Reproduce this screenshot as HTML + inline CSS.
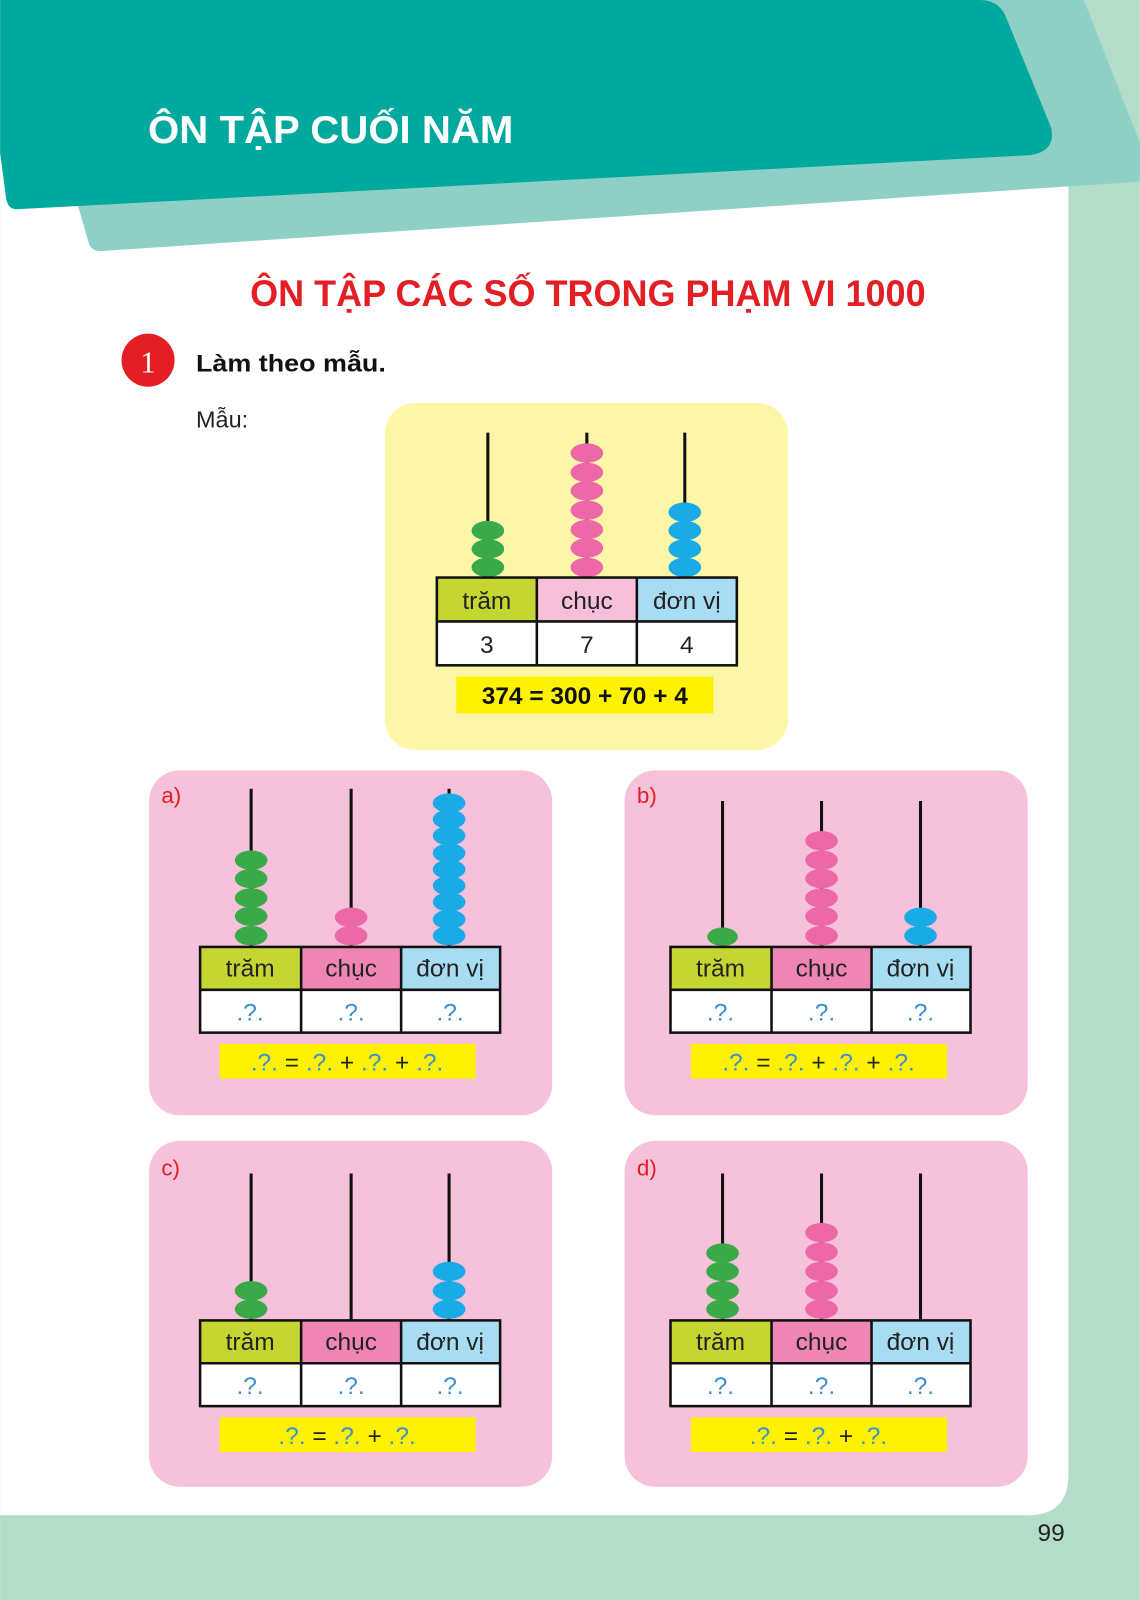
<!DOCTYPE html>
<html><head><meta charset="utf-8"><style>html,body{margin:0;padding:0;background:#fff}svg{display:block}</style></head>
<body>
<svg width="1140" height="1600" viewBox="0 0 1117 1568" xmlns="http://www.w3.org/2000/svg" font-family="Liberation Sans, sans-serif">
<defs>
<ellipse id="bg" cx="0" cy="0" rx="16" ry="9.5" fill="#3aaa48"/>
<ellipse id="bp" cx="0" cy="0" rx="16" ry="9.5" fill="#ec68a6"/>
<ellipse id="bb" cx="0" cy="0" rx="16" ry="9.5" fill="#1aabe6"/>
</defs>
<rect width="1117" height="1568" fill="#b3dcc9"/>
<path d="M0 0 H1047 V1445 Q1047 1485 1007 1485 H0 Z" fill="#fff"/>
<!-- header -->
<path d="M60 0 H1062 L1117 140 V178 L100 246 Q88 247 86 235 L70 180 Z" fill="#8ed0c6"/>
<path d="M0 0 H960 Q978 0 985 15 L1030 125 Q1035 148 1010 152 L18 205 Q8 206 6 195 L0 150 Z" fill="#00a99d"/>
<text x="145" y="140" font-size="38" font-weight="bold" fill="#fff" textLength="358" lengthAdjust="spacingAndGlyphs">ÔN TẬP CUỐI NĂM</text>
<text x="245" y="300" font-size="36" font-weight="bold" fill="#e31e24" textLength="662" lengthAdjust="spacingAndGlyphs">ÔN TẬP CÁC SỐ TRONG PHẠM VI 1000</text>
<circle cx="145" cy="353" r="26" fill="#e31e24"/>
<text x="145" y="365" font-size="30" fill="#fff" text-anchor="middle" font-family="Liberation Serif, serif">1</text>
<text x="192" y="364" font-size="24" font-weight="bold" fill="#111" textLength="186" lengthAdjust="spacingAndGlyphs">Làm theo mẫu.</text>
<text x="192" y="419" font-size="23" fill="#222">Mẫu:</text>
<!-- sample -->
<rect x="377" y="395" width="395" height="340" rx="30" fill="#fbf6a8"/>
<g stroke="#111" stroke-width="3"><line x1="478" y1="424" x2="478" y2="566"/><line x1="575" y1="424" x2="575" y2="566"/><line x1="671" y1="424" x2="671" y2="566"/></g>
<g transform="translate(478,0)"><use href="#bg" y="520"/><use href="#bg" y="538"/><use href="#bg" y="556"/></g>
<g transform="translate(575,0)"><use href="#bp" y="444"/><use href="#bp" y="463"/><use href="#bp" y="481"/><use href="#bp" y="500"/><use href="#bp" y="519"/><use href="#bp" y="537"/><use href="#bp" y="556"/></g>
<g transform="translate(671,0)"><use href="#bb" y="502"/><use href="#bb" y="520"/><use href="#bb" y="538"/><use href="#bb" y="556"/></g>
<rect x="428" y="566" width="98" height="43" fill="#c5d531"/><rect x="526" y="566" width="98" height="43" fill="#f7bfd9"/><rect x="624" y="566" width="98" height="43" fill="#a8dcf3"/>
<rect x="428" y="609" width="294" height="43" fill="#fff"/>
<g stroke="#111" stroke-width="2.5" fill="none"><rect x="428" y="566" width="294" height="86"/><line x1="428" y1="609" x2="722" y2="609"/><line x1="526" y1="566" x2="526" y2="652"/><line x1="624" y1="566" x2="624" y2="652"/></g>
<g font-size="24" fill="#222" text-anchor="middle"><text x="477" y="597">trăm</text><text x="575" y="597">chục</text><text x="673" y="597">đơn vị</text><text x="477" y="640">3</text><text x="575" y="640">7</text><text x="673" y="640">4</text></g>
<rect x="447" y="663" width="252" height="36" fill="#fff200"/>
<text x="573" y="690" font-size="24" font-weight="bold" fill="#111" text-anchor="middle">374 = 300 + 70 + 4</text>

<!-- panel a -->
<rect x="146" y="755" width="395" height="338" rx="30" fill="#f6c1db"/>
<text x="158" y="787" font-size="22" fill="#e31e24">a)</text>
<g stroke="#111" stroke-width="3"><line x1="246" y1="773" x2="246" y2="928"/><line x1="344" y1="773" x2="344" y2="928"/><line x1="440" y1="773" x2="440" y2="928"/></g>
<g transform="translate(246,0)"><use href="#bg" y="843"/><use href="#bg" y="861"/><use href="#bg" y="880"/><use href="#bg" y="898"/><use href="#bg" y="917"/></g>
<g transform="translate(344,0)"><use href="#bp" y="899"/><use href="#bp" y="917"/></g>
<g transform="translate(440,0)"><use href="#bb" y="787"/><use href="#bb" y="803"/><use href="#bb" y="819"/><use href="#bb" y="836"/><use href="#bb" y="852"/><use href="#bb" y="868"/><use href="#bb" y="884"/><use href="#bb" y="901"/><use href="#bb" y="917"/></g>
<!-- panel b -->
<rect x="612" y="755" width="395" height="338" rx="30" fill="#f6c1db"/>
<text x="624" y="787" font-size="22" fill="#e31e24">b)</text>
<g stroke="#111" stroke-width="3"><line x1="708" y1="785" x2="708" y2="928"/><line x1="805" y1="785" x2="805" y2="928"/><line x1="902" y1="785" x2="902" y2="928"/></g>
<ellipse cx="708" cy="918" rx="15" ry="9" fill="#3aaa48"/>
<g transform="translate(805,0)"><use href="#bp" y="824"/><use href="#bp" y="843"/><use href="#bp" y="861"/><use href="#bp" y="880"/><use href="#bp" y="898"/><use href="#bp" y="917"/></g>
<g transform="translate(902,0)"><use href="#bb" y="899"/><use href="#bb" y="917"/></g>
<!-- panel c -->
<rect x="146" y="1118" width="395" height="339" rx="30" fill="#f6c1db"/>
<text x="158" y="1152" font-size="22" fill="#e31e24">c)</text>
<g stroke="#111" stroke-width="3"><line x1="246" y1="1150" x2="246" y2="1294"/><line x1="344" y1="1150" x2="344" y2="1294"/><line x1="440" y1="1150" x2="440" y2="1294"/></g>
<g transform="translate(246,0)"><use href="#bg" y="1265"/><use href="#bg" y="1283"/></g>
<g transform="translate(440,0)"><use href="#bb" y="1246"/><use href="#bb" y="1265"/><use href="#bb" y="1283"/></g>
<!-- panel d -->
<rect x="612" y="1118" width="395" height="339" rx="30" fill="#f6c1db"/>
<text x="624" y="1152" font-size="22" fill="#e31e24">d)</text>
<g stroke="#111" stroke-width="3"><line x1="708" y1="1150" x2="708" y2="1294"/><line x1="805" y1="1150" x2="805" y2="1294"/><line x1="902" y1="1150" x2="902" y2="1294"/></g>
<g transform="translate(708,0)"><use href="#bg" y="1228"/><use href="#bg" y="1246"/><use href="#bg" y="1265"/><use href="#bg" y="1283"/></g>
<g transform="translate(805,0)"><use href="#bp" y="1208"/><use href="#bp" y="1227"/><use href="#bp" y="1246"/><use href="#bp" y="1265"/><use href="#bp" y="1283"/></g>

<!-- tables -->
<g id="tA">
<rect x="196" y="928" width="99" height="42" fill="#c5d531"/><rect x="295" y="928" width="98" height="42" fill="#ef85b5"/><rect x="393" y="928" width="97" height="42" fill="#a8dcf3"/>
<rect x="196" y="970" width="294" height="42" fill="#fff"/>
<g stroke="#111" stroke-width="2.5" fill="none"><rect x="196" y="928" width="294" height="84"/><line x1="196" y1="970" x2="490" y2="970"/><line x1="295" y1="928" x2="295" y2="1012"/><line x1="393" y1="928" x2="393" y2="1012"/></g>
</g>
<g font-size="24" fill="#222" text-anchor="middle"><text x="245" y="957">trăm</text><text x="344" y="957">chục</text><text x="441" y="957">đơn vị</text></g>
<g font-size="24" fill="#3b8fd0" text-anchor="middle"><text x="245" y="1000">.?.</text><text x="344" y="1000">.?.</text><text x="441" y="1000">.?.</text></g>
<rect x="215" y="1023" width="251" height="34" fill="#fff200"/>
<text x="340" y="1049" font-size="24" fill="#3b8fd0" text-anchor="middle">.?. <tspan fill="#222">=</tspan> .?. <tspan fill="#222">+</tspan> .?. <tspan fill="#222">+</tspan> .?.</text>

<use href="#tA" x="461" y="0"/>
<g font-size="24" fill="#222" text-anchor="middle"><text x="706" y="957">trăm</text><text x="805" y="957">chục</text><text x="902" y="957">đơn vị</text></g>
<g font-size="24" fill="#3b8fd0" text-anchor="middle"><text x="706" y="1000">.?.</text><text x="805" y="1000">.?.</text><text x="902" y="1000">.?.</text></g>
<rect x="677" y="1023" width="251" height="34" fill="#fff200"/>
<text x="802" y="1049" font-size="24" fill="#3b8fd0" text-anchor="middle">.?. <tspan fill="#222">=</tspan> .?. <tspan fill="#222">+</tspan> .?. <tspan fill="#222">+</tspan> .?.</text>

<use href="#tA" x="0" y="366"/>
<g font-size="24" fill="#222" text-anchor="middle"><text x="245" y="1323">trăm</text><text x="344" y="1323">chục</text><text x="441" y="1323">đơn vị</text></g>
<g font-size="24" fill="#3b8fd0" text-anchor="middle"><text x="245" y="1366">.?.</text><text x="344" y="1366">.?.</text><text x="441" y="1366">.?.</text></g>
<rect x="215" y="1389" width="251" height="34" fill="#fff200"/>
<text x="340" y="1415" font-size="24" fill="#3b8fd0" text-anchor="middle">.?. <tspan fill="#222">=</tspan> .?. <tspan fill="#222">+</tspan> .?.</text>

<use href="#tA" x="461" y="366"/>
<g font-size="24" fill="#222" text-anchor="middle"><text x="706" y="1323">trăm</text><text x="805" y="1323">chục</text><text x="902" y="1323">đơn vị</text></g>
<g font-size="24" fill="#3b8fd0" text-anchor="middle"><text x="706" y="1366">.?.</text><text x="805" y="1366">.?.</text><text x="902" y="1366">.?.</text></g>
<rect x="677" y="1389" width="251" height="34" fill="#fff200"/>
<text x="802" y="1415" font-size="24" fill="#3b8fd0" text-anchor="middle">.?. <tspan fill="#222">=</tspan> .?. <tspan fill="#222">+</tspan> .?.</text>

<text x="1030" y="1510" font-size="24" fill="#222" text-anchor="middle">99</text>
</svg>
</body></html>
